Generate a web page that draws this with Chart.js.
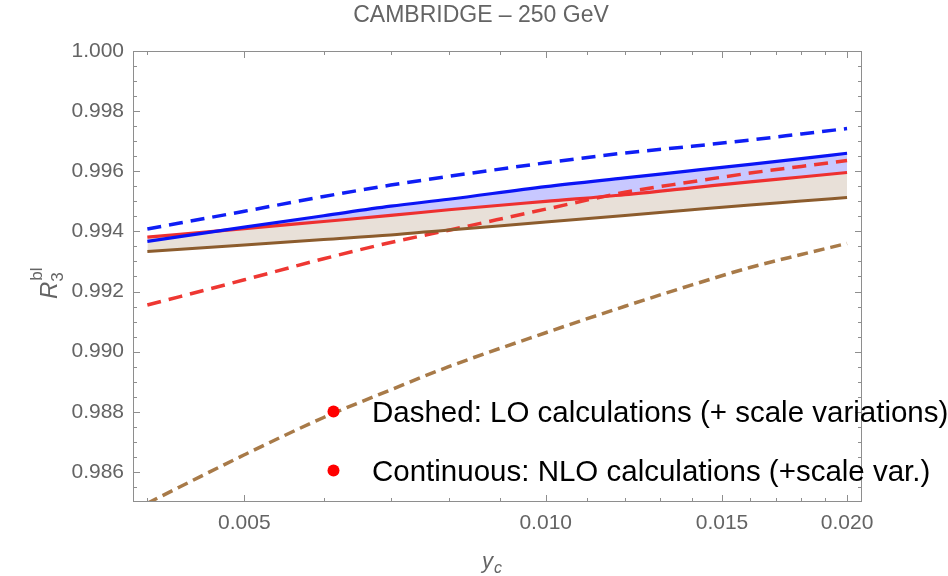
<!DOCTYPE html>
<html>
<head>
<meta charset="utf-8">
<script src="https://cdn.jsdelivr.net/npm/chart.js@4.4.1/dist/chart.umd.min.js"></script>
<style>
html, body { margin: 0; padding: 0; background: #fff; }
</style>
</head>
<body>
<canvas id="cambridgeChart" width="948" height="576"></canvas>
<script>
// y_c values (log axis)
var yc = [0.004, 0.005, 0.006, 0.007, 0.008, 0.010, 0.012, 0.014, 0.016, 0.018, 0.020];

// NLO (continuous)
var nloBlue  = [0.99367, 0.99414, 0.99452, 0.99484, 0.99507, 0.99549, 0.99578, 0.99602, 0.99623, 0.99642, 0.99660];
var nloRed   = [0.99381, 0.99409, 0.99433, 0.99453, 0.99472, 0.99500, 0.99522, 0.99545, 0.99565, 0.99581, 0.99596];
var nloBrown = [0.99333, 0.99355, 0.99373, 0.99388, 0.99405, 0.99431, 0.99453, 0.99472, 0.99488, 0.99501, 0.99513];

// LO (dashed)
var loBlue  = [0.99408, 0.99467, 0.99516, 0.99554, 0.99583, 0.99628, 0.99661, 0.99683, 0.99704, 0.99724, 0.99742];
var loRed   = [0.99155, 0.99239, 0.99309, 0.99363, 0.99404, 0.99474, 0.99530, 0.99565, 0.99594, 0.99616, 0.99636];
var loBrown = [0.98496, 0.98657, 0.98781, 0.98873, 0.98950, 0.99063, 0.99151, 0.99222, 0.99280, 0.99323, 0.99360];

var xTicks = [0.005, 0.010, 0.015, 0.020];
var xMinor = [0.004, 0.006, 0.007, 0.008, 0.009, 0.011, 0.012, 0.013, 0.014, 0.016, 0.017, 0.018, 0.019];
var yTicks = [0.986, 0.988, 0.990, 0.992, 0.994, 0.996, 0.998, 1.000];
var yMinor = [0.9855, 0.9865, 0.9870, 0.9875, 0.9885, 0.9890, 0.9895, 0.9905, 0.9910, 0.9915,
              0.9925, 0.9930, 0.9935, 0.9945, 0.9950, 0.9955, 0.9965, 0.9970, 0.9975,
              0.9985, 0.9990, 0.9995];

var legendItems = [
    "Dashed: LO calculations (+ scale variations)",
    "Continuous: NLO calculations (+scale var.)"
];

var FONT = '"Liberation Sans", Arial, Helvetica, sans-serif';
var GRAY = '#646464';

function pts(vals) {
    return yc.map(function (x, i) { return { x: x, y: vals[i] }; });
}

var framePlugin = {
    id: 'frame',
    afterDatasetsDraw: function (chart) {
        var ctx = chart.ctx, a = chart.chartArea;
        var sx = chart.scales.x, sy = chart.scales.y;
        ctx.save();
        ctx.strokeStyle = '#8e8e8e';
        ctx.lineWidth = 1;
        ctx.strokeRect(a.left + 0.5, a.top + 0.5, a.right - a.left - 1, a.bottom - a.top - 1);
        ctx.beginPath();
        function xt(v, len) {
            var p = Math.round(sx.getPixelForValue(v)) + 0.5;
            ctx.moveTo(p, a.bottom); ctx.lineTo(p, a.bottom - len);
            ctx.moveTo(p, a.top); ctx.lineTo(p, a.top + len);
        }
        function yt(v, len) {
            var p = Math.round(sy.getPixelForValue(v)) + 0.5;
            ctx.moveTo(a.left, p); ctx.lineTo(a.left + len, p);
            ctx.moveTo(a.right, p); ctx.lineTo(a.right - len, p);
        }
        xTicks.forEach(function (v) { xt(v, 7); });
        xMinor.forEach(function (v) { xt(v, 4); });
        yTicks.forEach(function (v) { yt(v, 7); });
        yMinor.forEach(function (v) { yt(v, 4); });
        ctx.stroke();
        ctx.restore();
    },
    afterDraw: function (chart) {
        var ctx = chart.ctx;
        ctx.save();
        // title
        ctx.fillStyle = GRAY;
        ctx.font = '23px ' + FONT;
        ctx.textAlign = 'center';
        ctx.textBaseline = 'middle';
        ctx.fillText('CAMBRIDGE \u2013 250 GeV', 481, 16);

        // x axis title  y_c
        ctx.textAlign = 'left';
        ctx.textBaseline = 'alphabetic';
        ctx.font = 'italic 22px ' + FONT;
        ctx.fillText('y', 482, 568);
        ctx.font = 'italic 16px ' + FONT;
        ctx.fillText('c', 494, 573);

        // y axis title  R_3^bl
        ctx.save();
        ctx.translate(57, 299);
        ctx.rotate(-Math.PI / 2);
        ctx.font = 'italic 24px ' + FONT;
        ctx.fillText('R', 0, 0);
        var w = ctx.measureText('R').width;
        ctx.font = '17px ' + FONT;
        ctx.fillText('3', w, 6);
        ctx.fillText('bl', w + 1, -15);
        ctx.restore();

        // legend
        ctx.font = '29.5px ' + FONT;
        legendItems.forEach(function (t, i) {
            var cy = 411.5 + i * 59;
            ctx.fillStyle = '#f00';
            ctx.beginPath();
            ctx.arc(333.5, cy, 6, 0, Math.PI * 2);
            ctx.fill();
            ctx.fillStyle = '#000';
            ctx.fillText(t, 372, cy + 10.5);
        });
        ctx.restore();
    }
};

var ctx = document.getElementById('cambridgeChart');

var chart = new Chart(ctx, {
    type: 'line',
    data: {
        datasets: [
            {
                label: 'NLO brown',
                data: pts(nloBrown),
                borderColor: 'rgb(140,92,45)',
                borderWidth: 3,
                fill: { target: 2, above: 'rgb(232,224,216)', below: 'rgb(232,224,216)' }
            },
            {
                label: 'NLO blue',
                data: pts(nloBlue),
                borderColor: 'rgb(10,20,245)',
                borderWidth: 3.2,
                fill: { target: 2, above: 'rgb(200,200,255)', below: 'rgba(0,0,0,0)' }
            },
            {
                label: 'NLO red',
                data: pts(nloRed),
                borderColor: 'rgb(238,48,48)',
                borderWidth: 3.2,
                fill: false
            },
            {
                label: 'LO blue',
                data: pts(loBlue),
                borderColor: 'rgb(15,30,245)',
                borderWidth: 3.5,
                borderDash: [14, 8],
                fill: false
            },
            {
                label: 'LO red',
                data: pts(loRed),
                borderColor: 'rgb(238,55,50)',
                borderWidth: 3.5,
                borderDash: [14, 8],
                fill: false
            },
            {
                label: 'LO brown',
                data: pts(loBrown),
                borderColor: 'rgb(168,122,72)',
                borderWidth: 3.5,
                borderDash: [11, 6],
                fill: false
            }
        ]
    },
    options: {
        responsive: false,
        animation: false,
        devicePixelRatio: 1,
        layout: { padding: { left: 0, right: 86, top: 51, bottom: 0 } },
        elements: {
            point: { radius: 0 },
            line: { cubicInterpolationMode: 'monotone', borderCapStyle: 'butt' }
        },
        plugins: {
            legend: { display: false },
            tooltip: { enabled: false },
            filler: { drawTime: 'beforeDatasetsDraw', propagate: false }
        },
        scales: {
            x: {
                type: 'logarithmic',
                min: 0.00387,
                max: 0.0207,
                grid: { display: false, drawTicks: false },
                border: { display: false },
                afterBuildTicks: function (scale) {
                    scale.ticks = xTicks.map(function (v) { return { value: v }; });
                },
                afterFit: function (scale) { scale.height = 74; },
                ticks: {
                    autoSkip: false,
                    maxRotation: 0,
                    padding: 9,
                    color: GRAY,
                    font: { family: FONT, size: 21 },
                    callback: function (v) { return Number(v).toFixed(3); }
                }
            },
            y: {
                type: 'linear',
                min: 0.985,
                max: 1.000,
                grid: { display: false, drawTicks: false },
                border: { display: false },
                afterBuildTicks: function (scale) {
                    scale.ticks = yTicks.map(function (v) { return { value: v }; });
                },
                afterFit: function (scale) { scale.width = 133; },
                ticks: {
                    padding: 9,
                    color: GRAY,
                    font: { family: FONT, size: 21 },
                    callback: function (v) { return Number(v).toFixed(3); }
                }
            }
        }
    },
    plugins: [framePlugin]
});
</script>
</body>
</html>
